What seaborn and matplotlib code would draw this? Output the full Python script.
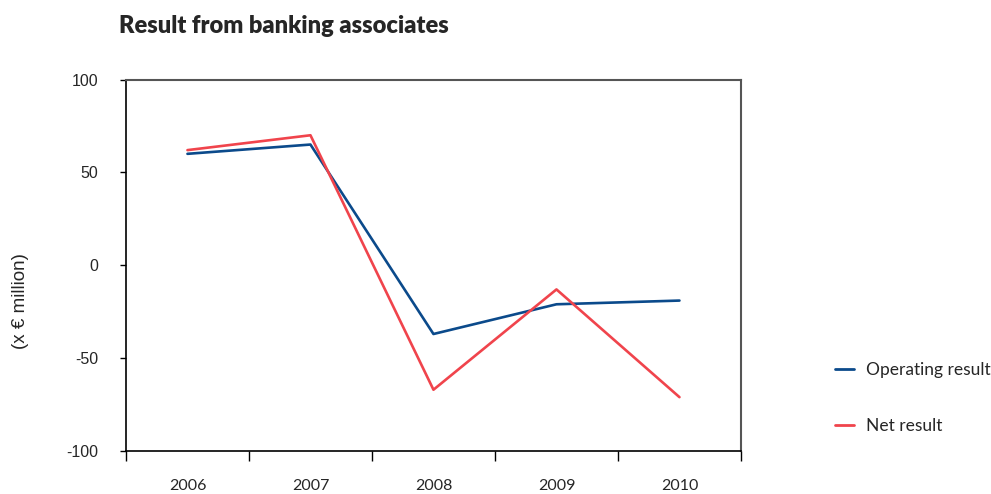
import matplotlib
matplotlib.use("Agg")
import matplotlib.pyplot as plt
from matplotlib.ticker import FixedLocator, NullFormatter
import seaborn as sns
import pandas as pd

# Data (x € million)
years = [2006, 2007, 2008, 2009, 2010]
operating_result = [60, 65, -37, -21, -19]
net_result = [62, 70, -67, -13, -71]
series_names = ["Operating result", "Net result"]
series_colors = ["#0b4a8b", "#f0444c"]

df = pd.DataFrame({
    "year": years * 2,
    "value": operating_result + net_result,
    "series": [series_names[0]] * len(years) + [series_names[1]] * len(years),
})

sns.set_theme(style="white")
plt.rcParams["font.family"] = ["Lato", "DejaVu Sans"]

fig = plt.figure(figsize=(9.91, 4.94), dpi=100)
ax = fig.add_axes([0.1271, 0.087, 0.6206, 0.752])

sns.lineplot(data=df, x="year", y="value", hue="series", hue_order=series_names,
             palette=series_colors, linewidth=1.9, ax=ax, legend=False)

# Axes limits and ticks
ax.set_xlim(years[0] - 0.5, years[-1] + 0.5)
ax.set_ylim(-100, 100)
ax.set_yticks([-100, -50, 0, 50, 100])
ax.set_yticklabels(["-100", "-50", "0", "50", "100"], family="Liberation Sans", fontsize=11.5)
ax.tick_params(axis="y", direction="out", length=4, width=1, color="black", pad=16, left=True)

# year boundaries as major ticks, year labels on minor ticks at the centres
ax.xaxis.set_major_locator(FixedLocator([y - 0.5 for y in years] + [years[-1] + 0.5]))
ax.xaxis.set_major_formatter(NullFormatter())
ax.set_xticks(years, minor=True)
ax.set_xticklabels([str(y) for y in years], minor=True, fontsize=11.5)
ax.tick_params(axis="x", which="major", direction="out", length=7, width=1, color="black", bottom=True)
ax.tick_params(axis="x", which="minor", length=0, pad=20)

ax.set_xlabel("")
ax.set_ylabel("")

for side in ["left", "bottom"]:
    ax.spines[side].set_color("black")
    ax.spines[side].set_linewidth(1.2)
for side in ["top", "right"]:
    ax.spines[side].set_color("#555555")
    ax.spines[side].set_linewidth(1.5)
ax.grid(False)

fig.text(0.0202, 0.391, "(x € million)", rotation=90, family="Liberation Sans",
         fontsize=13.5, ha="center", va="center")

fig.text(0.12, 0.947, "Result from banking associates", fontsize=17, fontweight="heavy",
         ha="left", va="center")

handles = [plt.Line2D([], [], color=c, linewidth=2) for c in series_colors]
fig.legend(handles, series_names, loc="center left", bbox_to_anchor=(0.827, 0.195),
           frameon=False, fontsize=12.5, handlelength=1.1, handletextpad=0.7,
           labelspacing=2.3)

fig.savefig("out.png", dpi=100)
